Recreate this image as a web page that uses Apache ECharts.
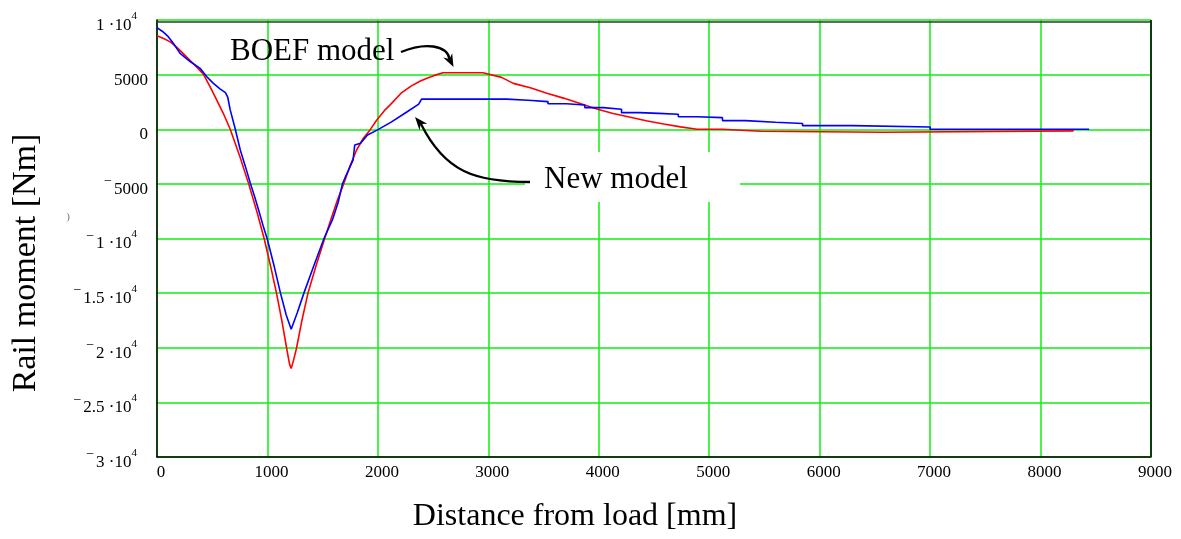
<!DOCTYPE html>
<html>
<head>
<meta charset="utf-8">
<script src="https://cdn.jsdelivr.net/npm/echarts@6/dist/echarts.min.js"></script>
<style>
  html, body { margin: 0; padding: 0; background: #fff; }
  #chart { width: 1181px; height: 539px; }
</style>
</head>
<body>
<div id="chart"></div>
<script>
// ---- Data ----
const boefDist = [0, 60, 120, 180, 240, 330, 420, 480, 540, 600, 663, 754, 830, 906, 970, 1030, 1082, 1130, 1173, 1200, 1215, 1235, 1264, 1310, 1367, 1440, 1518, 1573, 1630, 1694, 1750, 1807, 1870, 1929, 1990, 2058, 2113, 2210, 2300, 2380, 2450, 2512, 2590, 2950, 2950, 3120, 3226, 3380, 3530, 3680, 3831, 3982, 4130, 4286, 4440, 4588, 4740, 4890, 5118, 5118, 5466, 5466, 6573, 6573, 8300];
const boefMoment = [8550, 8300, 8000, 7500, 6900, 6000, 5050, 3900, 2680, 1460, 0, -2600, -5000, -7600, -10000, -12600, -15000, -17500, -20000, -21500, -21900, -21200, -20000, -17600, -15000, -12500, -10000, -8300, -6600, -4900, -3300, -1900, -800, -60, 850, 1700, 2250, 3300, 3950, 4400, 4700, 4930, 5170, 5170, 5000, 4750, 4200, 3800, 3300, 2850, 2350, 1850, 1450, 1100, 750, 480, 220, 0, 0, -180, -180, -270, -270, -150, -150];

const newDist = [0, 50, 100, 148, 209, 300, 390, 451, 511, 570, 620, 640, 663, 709, 754, 800, 845, 885, 920, 960, 997, 1060, 1118, 1170, 1215, 1270, 1330, 1420, 1512, 1588, 1640, 1679, 1701, 1776, 1790, 1843, 1906, 1997, 2120, 2265, 2370, 2395, 3167, 3167, 3360, 3360, 3540, 3540, 3707, 3707, 3873, 3873, 4040, 4040, 4206, 4206, 4372, 4372, 4540, 4540, 4720, 4720, 4890, 4890, 5120, 5120, 5330, 5330, 5600, 5600, 5845, 5845, 6300, 6300, 7000, 7000, 8440];
const newMoment = [9300, 8950, 8500, 7870, 6950, 6200, 5580, 4810, 4200, 3700, 3350, 2950, 1770, 0, -1900, -3400, -4950, -6200, -7400, -8800, -10000, -12500, -15000, -17000, -18300, -16800, -15000, -12500, -10000, -8300, -6700, -5000, -4480, -2800, -1440, -1280, -520, -60, 650, 1600, 2300, 2760, 2760, 2650, 2650, 2530, 2530, 2340, 2340, 2220, 2220, 1980, 1980, 1830, 1830, 1520, 1520, 1450, 1450, 1370, 1370, 1150, 1150, 1060, 1060, 790, 790, 640, 640, 520, 520, 330, 330, 210, 210, 0, 0];

const xTickValues = [0, 1000, 2000, 3000, 4000, 5000, 6000, 7000, 8000, 9000];
const xTickLabels = ['0', '1000', '2000', '3000', '4000', '5000', '6000', '7000', '8000', '9000'];
const yTickValues = [10000, 5000, 0, -5000, -10000, -15000, -20000, -25000, -30000];
const yTickLabels = ['1 ·10^4', '5000', '0', '−5000', '−1 ·10^4', '−1.5 ·10^4', '−2 ·10^4', '−2.5 ·10^4', '−3 ·10^4'];

const seriesNames = ['BOEF model', 'New model'];
const xTitle = 'Distance from load [mm]';
const yTitle = 'Rail moment [Nm]';

// ---- Build ----
const FONT = 'Liberation Serif, Times New Roman, serif';
function zip(a, b) { return a.map((v, i) => [v, b[i]]); }

function fmtY(v) {
  const i = yTickValues.indexOf(v);
  if (i < 0) return '';
  let s = yTickLabels[i];
  let out = '';
  if (s.charAt(0) === '−') { out += '{m|−}'; s = s.slice(1); }
  const parts = s.split('^');
  out += '{n|' + parts[0] + '}';
  if (parts[1]) out += '{s|' + parts[1] + '}';
  return out;
}
function fmtX(v) {
  const i = xTickValues.indexOf(v);
  return i < 0 ? '' : xTickLabels[i];
}

const chart = echarts.init(document.getElementById('chart'), null, { renderer: 'canvas' });
const GREEN = '#10ee10';

const option = {
  animation: false,
  backgroundColor: '#ffffff',
  grid: { left: 157, right: 30, top: 20, bottom: 82, containLabel: false },
  xAxis: {
    type: 'value', min: 0, max: 9000, interval: 1000,
    axisLine: { show: true, onZero: false, lineStyle: { color: '#000', width: 1.5 } },
    axisTick: { show: false },
    splitLine: { show: true, lineStyle: { color: GREEN, width: 1.5 } },
    axisLabel: {
      formatter: fmtX, fontFamily: FONT, fontSize: 17, color: '#000', margin: 7,
      padding: [0, 0, 0, 8], showMinLabel: true, showMaxLabel: true
    }
  },
  yAxis: {
    type: 'value', min: -30000, max: 10000, interval: 5000,
    axisLine: { show: true, onZero: false, lineStyle: { color: '#000', width: 1.5 } },
    axisTick: { show: false },
    splitLine: { show: true, lineStyle: { color: GREEN, width: 1.5 } },
    axisLabel: {
      formatter: fmtY, margin: 9, padding: [11, 0, 0, 0],
      showMinLabel: true, showMaxLabel: true,
      rich: {
        n: { fontFamily: FONT, fontSize: 17, color: '#000', lineHeight: 30 },
        m: { fontFamily: FONT, fontSize: 14, color: '#000', lineHeight: 21, verticalAlign: 'top', padding: [0, 2, 0, 0] },
        s: { fontFamily: FONT, fontSize: 11, color: '#000', lineHeight: 13, verticalAlign: 'top', padding: [0, 11, 0, 0] }
      }
    }
  },
  series: [
    {
      name: seriesNames[0], type: 'line', data: zip(boefDist, boefMoment),
      showSymbol: false, symbol: 'none', smooth: false,
      lineStyle: { color: '#ff0000', width: 1.6 }, z: 3
    },
    {
      name: seriesNames[1], type: 'line', data: zip(newDist, newMoment),
      showSymbol: false, symbol: 'none', smooth: false,
      lineStyle: { color: '#0000ff', width: 1.6 }, z: 4
    }
  ],
  graphic: [
    // frame lines (top dark line, right border)
    { type: 'line', shape: { x1: 157, y1: 22, x2: 1151, y2: 22 }, style: { stroke: '#333', lineWidth: 1.5 }, z: 50 },
    { type: 'line', shape: { x1: 1151, y1: 20, x2: 1151, y2: 457 }, style: { stroke: '#0b3d0b', lineWidth: 2 }, z: 50 },
    // white box behind "New model"
    { type: 'rect', shape: { x: 525, y: 152, width: 215, height: 50 }, style: { fill: '#fff' }, z: 60 },
    { type: 'text', x: 230, y: 52, z: 70, style: { text: seriesNames[0], font: '31px ' + FONT, fill: '#000', align: 'left', verticalAlign: 'middle' } },
    { type: 'text', x: 544, y: 180, z: 70, style: { text: seriesNames[1], font: '31px ' + FONT, fill: '#000', align: 'left', verticalAlign: 'middle' } },
    // BOEF arrow
    { type: 'bezierCurve', z: 70, shape: { x1: 401, y1: 52, cpx1: 425, cpy1: 42, cpx2: 447, cpy2: 45, x2: 449.5, y2: 59 }, style: { stroke: '#000', lineWidth: 2.3, fill: null } },
    { type: 'polygon', z: 71, shape: { points: [[453.5, 67], [443.2, 57.6], [449.5, 59], [452.2, 53.2]] }, style: { fill: '#000' } },
    // New model arrow
    { type: 'bezierCurve', z: 70, shape: { x1: 530, y1: 182, cpx1: 475, cpy1: 182, cpx2: 445, cpy2: 172, x2: 421, y2: 124 }, style: { stroke: '#000', lineWidth: 2.3, fill: null } },
    { type: 'polygon', z: 71, shape: { points: [[415, 117], [427.2, 123.8], [420.8, 123.9], [419.5, 130.2]] }, style: { fill: '#000' } },
    // axis titles
    { type: 'text', x: 575, y: 517, z: 70, style: { text: xTitle, font: '32px ' + FONT, fill: '#000', align: 'center', verticalAlign: 'middle' } },
    { type: 'text', x: 26, y: 263, rotation: Math.PI / 2, z: 70, style: { text: yTitle, font: '34px ' + FONT, fill: '#000', align: 'center', verticalAlign: 'middle' } },
    // stray glyph in the reference
    { type: 'text', x: 68, y: 217, z: 70, style: { text: ')', font: '11px ' + FONT, fill: '#777', align: 'center', verticalAlign: 'middle' } }
  ]
};
chart.setOption(option);
</script>
</body>
</html>
